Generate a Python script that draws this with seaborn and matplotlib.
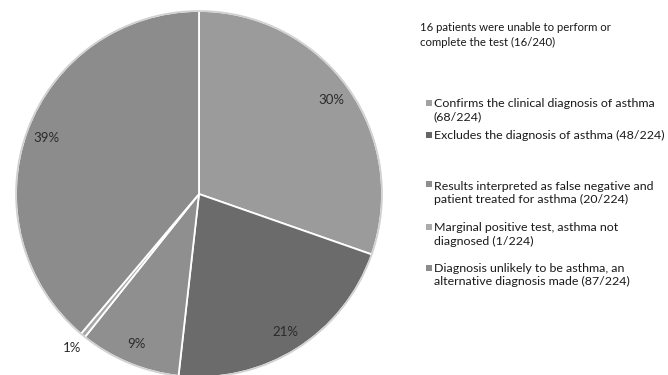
import matplotlib
matplotlib.use("Agg")
import matplotlib.pyplot as plt
import seaborn as sns
import numpy as np

sns.set_theme(style="white")
plt.rcParams['font.family'] = ['Lato', 'DejaVu Sans']

# Data
categories = [
    "Confirms the clinical diagnosis of asthma\n(68/224)",
    "Excludes the diagnosis of asthma (48/224)",
    "Results interpreted as false negative and\npatient treated for asthma (20/224)",
    "Marginal positive test, asthma not\ndiagnosed (1/224)",
    "Diagnosis unlikely to be asthma, an\nalternative diagnosis made (87/224)",
]
counts = [68, 48, 20, 1, 87]
pct_labels = ["30%", "21%", "9%", "1%", "39%"]
note = "16 patients were unable to perform or\ncomplete the test (16/240)"

slice_colors = ["#9b9b9b", "#6b6b6b", "#8f8f8f", "#a8a8a8", "#8c8c8c"]
legend_colors = ["#a2a2a2", "#666666", "#8e8e8e", "#ababab", "#8c8c8c"]

fig = plt.figure(figsize=(6.68, 3.75), dpi=100)
fig.patch.set_facecolor("white")

W, H = 668, 375
cx, cy, r = 199, H - 194, 183
ax = fig.add_axes([(cx - r) / W, (cy - r) / H, 2 * r / W, 2 * r / H])

wedges, _ = ax.pie(counts, startangle=90, counterclock=False, colors=slice_colors,
                   radius=1.0, wedgeprops=dict(edgecolor="white", linewidth=1.3))
ax.set_xlim(-1, 1)
ax.set_ylim(-1, 1)
ax.set_aspect("equal")
ax.axis("off")

rim = plt.Circle((0, 0), 1.0, facecolor="none", edgecolor="#d0d0d0", lw=1.2,
                 zorder=5, clip_on=False)
ax.add_patch(rim)

total = sum(counts)
start = 90.0
for c, lab in zip(counts, pct_labels):
    span = 360.0 * c / total
    mid = np.deg2rad(start - span / 2)
    dist = 1.09 if c / total < 0.02 else 0.89
    ax.text(dist * np.cos(mid), dist * np.sin(mid), lab, ha="center", va="center",
            fontsize=9.5, color="#2a2a2a")
    start -= span

# note
fig.text(420 / W, 1 - 35 / H, note, fontsize=8.2, color="#1a1a1a", va="center",
         ha="left", linespacing=1.4)

# legend
first_line_y = [103, 135, 184, 227, 268]
block_center_y = [110.5, 135, 193, 234.5, 275]
for lab, col, y1, yc in zip(categories, legend_colors, first_line_y, block_center_y):
    fig.patches.append(plt.Rectangle((426 / W, 1 - (y1 + 3) / H), 6 / W, 6 / H,
                                     transform=fig.transFigure, facecolor=col,
                                     edgecolor="none", figure=fig))
    fig.text(434 / W, 1 - yc / H, lab, fontsize=8.95, color="#1a1a1a", va="center",
             ha="left", linespacing=1.25)

fig.savefig("out.png", dpi=100, facecolor="white")
